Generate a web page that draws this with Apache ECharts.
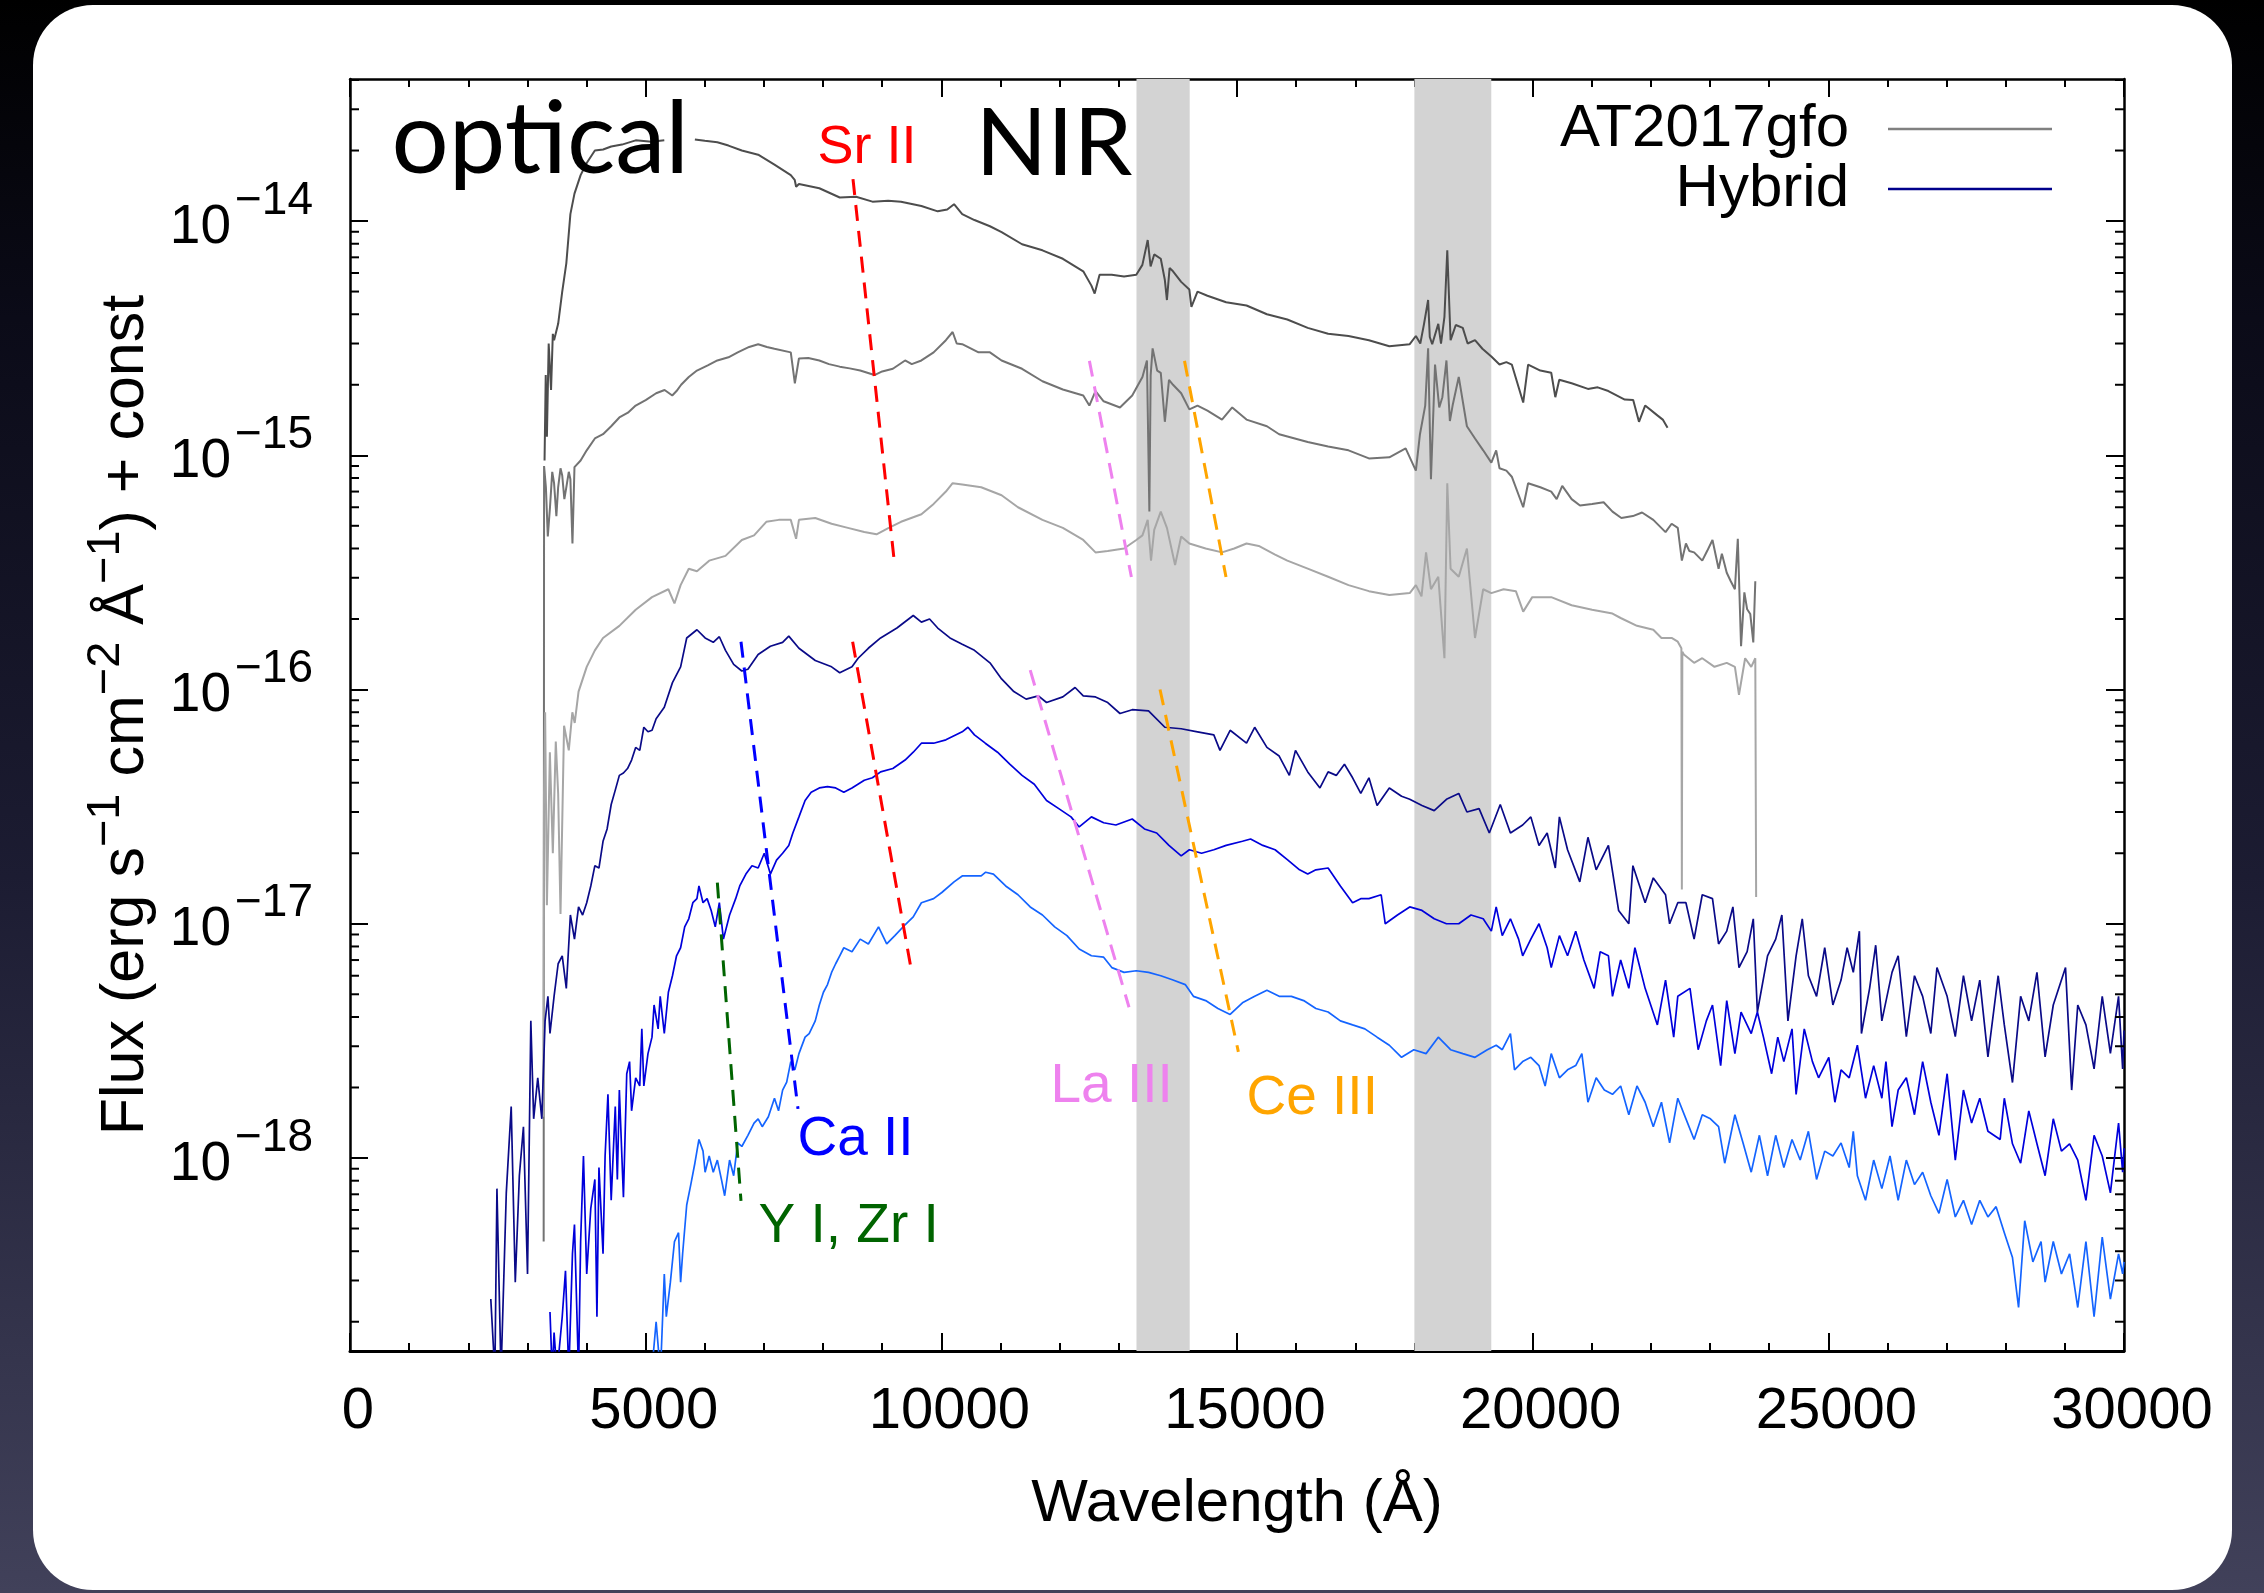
<!DOCTYPE html>
<html><head><meta charset="utf-8">
<script src="https://cdn.jsdelivr.net/npm/echarts@6/dist/echarts.min.js"></script>
<style>
html,body{margin:0;padding:0;width:2264px;height:1593px;overflow:hidden;
background:linear-gradient(180deg,#000 0%,#0b0b18 20%,#1c1c32 55%,#41415a 100%);}
#panel{position:absolute;left:33px;top:5px;width:2199px;height:1585px;background:#fff;border-radius:60px;}
#chart{position:absolute;left:0;top:0;width:2264px;height:1593px;}
</style></head>
<body><div id="panel"></div><div id="chart"></div>
<script>
// ---------------- axes ----------------
const X_MIN = 0, X_MAX = 30000, X_STEP = 5000;
const Y_MIN = 1.5e-19, Y_MAX = 4.04e-14;
const yMajorTicks = [1e-18, 1e-17, 1e-16, 1e-15, 1e-14];
const yTickBase = '10';
const yTickExponents = ['−18', '−17', '−16', '−15', '−14'];
const yMinorMultipliers = [2, 3, 4, 5, 6, 7, 8, 9];
const yDecades = [-19, -18, -17, -16, -15, -14];
const telluricBands = [[13300, 14200], [18000, 19300]];
const xTitle = 'Wavelength (Å)';
// y title pieces: [text, isSuperscript]
const yTitleParts = [['Flux (erg s', false], ['−1', true], [' cm', false], ['−2', true], [' Å', false], ['−1', true], [') + const', false]];
const legendNames = ['AT2017gfo', 'Hybrid'];

// ---------------- AT2017gfo spectra (wavelength Å, flux) ----------------
const gfo1 = [[3290,9.5e-16],[3310,2.2e-15],[3330,1.2e-15],[3360,3.0e-15],[3400,1.9e-15],[3430,3.3e-15],[3451,3.1e-15],[3520,3.64e-15],[3589,5.0e-15],[3658,6.6e-15],[3727,1.07e-14],[3796,1.31e-14],[3900,1.57e-14],[4003,1.77e-14],[4141,2.0e-14],[4280,2.02e-14],[4417,2.08e-14],[4600,2.12e-14],[4831,2.21e-14],[5100,2.18e-14],[5315,2.21e-14],[5570,'-'],[5832,2.23e-14],[6000,2.2e-14],[6212,2.17e-14],[6400,2.1e-14],[6626,2.0e-14],[6902,1.92e-14],[7178,1.74e-14],[7454,1.57e-14],[7520,1.5e-14],[7544,1.4e-14],[7592,1.44e-14],[7937,1.38e-14],[8282,1.26e-14],[8558,1.27e-14],[8835,1.21e-14],[9100,1.22e-14],[9318,1.21e-14],[9663,1.16e-14],[9939,1.1e-14],[10100,1.12e-14],[10215,1.18e-14],[10353,1.07e-14],[10560,1.01e-14],[10822,9.5e-15],[11019,8.97e-15],[11365,7.96e-15],[11710,7.5e-15],[12055,6.9e-15],[12400,6.1e-15],[12538,5.3e-15],[12593,4.9e-15],[12676,5.9e-15],[12882,5.9e-15],[13090,5.8e-15],[13297,5.9e-15],[13400,6.5e-15],[13490,8.3e-15],[13539,6.4e-15],[13600,7.2e-15],[13711,6.9e-15],[13780,5.6e-15],[13815,4.6e-15],[13860,6.3e-15],[13918,6.1e-15],[14056,5.5e-15],[14194,5.1e-15],[14229,4.3e-15],[14332,5.0e-15],[14500,4.8e-15],[14816,4.5e-15],[15161,4.36e-15],[15506,4.0e-15],[15851,3.8e-15],[16196,3.5e-15],[16541,3.3e-15],[16886,3.23e-15],[17231,3.1e-15],[17576,2.92e-15],[17921,2.98e-15],[18025,3.23e-15],[18100,3.0e-15],[18163,3.64e-15],[18232,4.6e-15],[18260,3.2e-15],[18301,2.98e-15],[18404,3.64e-15],[18450,3.0e-15],[18508,3.9e-15],[18556,7.5e-15],[18612,3.1e-15],[18700,3.6e-15],[18818,3.5e-15],[18900,3.0e-15],[19025,3.1e-15],[19150,2.85e-15],[19301,2.64e-15],[19439,2.44e-15],[19555,2.5e-15],[19647,2.44e-15],[19840,1.68e-15],[19923,2.44e-15],[20130,2.3e-15],[20314,2.25e-15],[20383,1.77e-15],[20450,2.1e-15],[20659,2.03e-15],[20935,1.92e-15],[21100,1.95e-15],[21280,1.88e-15],[21557,1.73e-15],[21700,1.72e-15],[21798,1.39e-15],[21902,1.63e-15],[22109,1.48e-15],[22200,1.42e-15],[22281,1.31e-15]];

const gfo2 = [[3275,4.4e-19],[3282,9.0e-16],[3313,7.3e-16],[3345,4.5e-16],[3382,6.0e-16],[3420,8.5e-16],[3451,7.6e-16],[3490,5.5e-16],[3520,7.3e-16],[3560,8.8e-16],[3589,8.2e-16],[3625,6.5e-16],[3658,7.3e-16],[3700,8.5e-16],[3727,7.9e-16],[3762,4.2e-16],[3796,8.9e-16],[3900,9.5e-16],[4003,1.05e-15],[4141,1.18e-15],[4279,1.23e-15],[4417,1.33e-15],[4555,1.45e-15],[4700,1.52e-15],[4831,1.63e-15],[5000,1.72e-15],[5177,1.84e-15],[5320,1.9e-15],[5450,1.8e-15],[5522,1.88e-15],[5600,2.0e-15],[5729,2.16e-15],[5867,2.3e-15],[6050,2.42e-15],[6212,2.54e-15],[6400,2.62e-15],[6557,2.75e-15],[6750,2.9e-15],[6902,2.98e-15],[7050,2.9e-15],[7178,2.85e-15],[7454,2.75e-15],[7523,2.03e-15],[7592,2.59e-15],[7750,2.6e-15],[7937,2.54e-15],[8100,2.45e-15],[8282,2.39e-15],[8450,2.35e-15],[8628,2.3e-15],[8869,2.2e-15],[9000,2.28e-15],[9180,2.34e-15],[9387,2.54e-15],[9500,2.45e-15],[9663,2.54e-15],[9870,2.75e-15],[10077,3.1e-15],[10191,3.36e-15],[10260,3.0e-15],[10353,2.98e-15],[10629,2.75e-15],[10822,2.75e-15],[11019,2.54e-15],[11365,2.34e-15],[11710,2.07e-15],[12055,1.91e-15],[12400,1.8e-15],[12503,1.63e-15],[12607,1.88e-15],[12745,1.7e-15],[13021,1.6e-15],[13228,1.8e-15],[13401,2.16e-15],[13477,2.54e-15],[13518,5.75e-16],[13540,2.2e-15],[13573,2.86e-15],[13650,2.3e-15],[13711,2.25e-15],[13780,1.39e-15],[13850,2.1e-15],[13918,2.0e-15],[14056,1.84e-15],[14194,1.57e-15],[14332,1.63e-15],[14500,1.55e-15],[14746,1.42e-15],[14919,1.6e-15],[15161,1.42e-15],[15506,1.33e-15],[15713,1.23e-15],[16196,1.14e-15],[16541,1.09e-15],[16886,1.05e-15],[17231,9.7e-16],[17576,9.8e-16],[17852,1.07e-15],[18025,8.6e-16],[18094,1.23e-15],[18183,1.63e-15],[18232,2.86e-15],[18280,7.9e-16],[18349,2.44e-15],[18420,1.6e-15],[18473,1.77e-15],[18542,2.54e-15],[18600,1.4e-15],[18646,1.63e-15],[18750,2.16e-15],[18888,1.33e-15],[19025,1.18e-15],[19163,1.05e-15],[19301,9.3e-16],[19383,1.05e-15],[19439,8.8e-16],[19555,8.6e-16],[19647,8.1e-16],[19840,6.0e-16],[19923,7.6e-16],[20130,7.3e-16],[20314,7.0e-16],[20406,6.5e-16],[20500,7.4e-16],[20659,6.5e-16],[20800,6.1e-16],[21005,6.2e-16],[21200,6.3e-16],[21350,5.75e-16],[21500,5.4e-16],[21695,5.5e-16],[21850,5.7e-16],[22040,5.3e-16],[22247,4.7e-16],[22350,5.1e-16],[22454,4.9e-16],[22523,3.55e-16],[22592,4.2e-16],[22650,3.9e-16],[22730,3.85e-16],[22868,3.55e-16],[22950,3.9e-16],[23041,4.35e-16],[23144,3.28e-16],[23200,3.8e-16],[23282,3.15e-16],[23350,2.9e-16],[23420,2.68e-16],[23469,4.4e-16],[23524,1.53e-16],[23580,2.6e-16],[23627,2.2e-16],[23680,2.1e-16],[23731,1.59e-16],[23765,2.9e-16]];

const gfo3 = [[3270,1.5e-18],[3280,3.5e-17],[3300,8.0e-17],[3330,1.2e-17],[3380,5.4e-17],[3430,2.0e-17],[3480,6.0e-17],[3520,3.6e-17],[3560,1.1e-17],[3620,7.0e-17],[3700,5.5e-17],[3760,8.0e-17],[3800,7.2e-17],[3865,9.8e-17],[4003,1.25e-16],[4141,1.47e-16],[4279,1.66e-16],[4555,1.87e-16],[4831,2.19e-16],[5107,2.48e-16],[5384,2.68e-16],[5487,2.33e-16],[5591,2.79e-16],[5729,3.28e-16],[5867,3.2e-16],[6074,3.55e-16],[6350,3.72e-16],[6626,4.35e-16],[6833,4.55e-16],[7040,5.2e-16],[7250,5.3e-16],[7454,5.3e-16],[7544,4.4e-16],[7592,5.3e-16],[7868,5.4e-16],[8144,5.1e-16],[8420,4.9e-16],[8697,4.7e-16],[8904,4.6e-16],[9111,4.9e-16],[9318,5.2e-16],[9663,5.6e-16],[9870,6.2e-16],[10077,7.0e-16],[10191,7.6e-16],[10353,7.5e-16],[10674,7.3e-16],[11019,6.75e-16],[11296,6.0e-16],[11710,5.3e-16],[12055,4.9e-16],[12400,4.35e-16],[12607,3.85e-16],[12814,3.9e-16],[13090,4.0e-16],[13297,4.35e-16],[13401,4.55e-16],[13490,5.3e-16],[13546,3.55e-16],[13600,4.8e-16],[13711,5.75e-16],[13815,4.9e-16],[13953,3.4e-16],[14056,4.5e-16],[14194,4.2e-16],[14470,4.0e-16],[14746,3.85e-16],[14953,4.0e-16],[15161,4.2e-16],[15368,4.1e-16],[15644,3.77e-16],[15851,3.55e-16],[16196,3.28e-16],[16541,3.03e-16],[16886,2.79e-16],[17231,2.63e-16],[17576,2.53e-16],[17921,2.58e-16],[18025,2.79e-16],[18120,2.5e-16],[18197,3.85e-16],[18280,2.68e-16],[18404,3.03e-16],[18508,1.36e-16],[18556,7.6e-16],[18612,3.28e-16],[18750,3.03e-16],[18888,4.0e-16],[19025,1.66e-16],[19163,2.68e-16],[19301,2.58e-16],[19508,2.68e-16],[19716,2.63e-16],[19840,2.15e-16],[19993,2.48e-16],[20314,2.48e-16],[20659,2.29e-16],[21005,2.19e-16],[21350,2.11e-16],[21488,2.02e-16],[21764,1.87e-16],[22040,1.8e-16],[22178,1.66e-16],[22350,1.66e-16],[22454,1.6e-16],[22515,1.5e-16],[22523,1.4e-17],[22531,1.45e-16],[22557,1.41e-16],[22730,1.3e-16],[22868,1.36e-16],[23075,1.25e-16],[23282,1.3e-16],[23420,1.25e-16],[23489,9.5e-17],[23593,1.36e-16],[23696,1.25e-16],[23765,1.36e-16],[23779,1.3e-17]];

// ---------------- Hybrid model spectra ----------------
const hyb1 = [[2381,2.5e-19],[2450,1.2e-19],[2485,7.4e-19],[2554,1.2e-19],[2643,7.1e-19],[2726,1.66e-18],[2795,2.95e-19],[2864,8.4e-19],[2933,1.36e-18],[3002,3.2e-19],[3058,3.85e-18],[3106,1.47e-18],[3175,2.2e-18],[3244,1.47e-18],[3299,3.85e-18],[3347,4.9e-18],[3382,3.4e-18],[3451,4.9e-18],[3520,6.75e-18],[3589,7.3e-18],[3658,5.3e-18],[3727,1.09e-17],[3796,8.6e-18],[3865,1.18e-17],[3934,1.09e-17],[4003,1.23e-17],[4072,1.45e-17],[4141,1.77e-17],[4210,1.73e-17],[4279,2.25e-17],[4348,2.54e-17],[4417,3.23e-17],[4486,3.72e-17],[4555,4.3e-17],[4624,4.4e-17],[4693,4.6e-17],[4762,5.0e-17],[4831,5.66e-17],[4900,5.5e-17],[4969,6.9e-17],[5039,6.6e-17],[5108,6.7e-17],[5177,7.5e-17],[5315,8.4e-17],[5453,1.07e-16],[5591,1.25e-16],[5694,1.66e-16],[5867,1.8e-16],[6005,1.66e-16],[6143,1.59e-16],[6246,1.68e-16],[6350,1.47e-16],[6488,1.28e-16],[6626,1.2e-16],[6729,1.22e-16],[6902,1.41e-16],[7109,1.53e-16],[7316,1.59e-16],[7420,1.69e-16],[7592,1.5e-16],[7868,1.33e-16],[8144,1.25e-16],[8282,1.18e-16],[8489,1.25e-16],[8593,1.36e-16],[8765,1.5e-16],[8973,1.66e-16],[9249,1.83e-16],[9525,2.07e-16],[9663,1.94e-16],[9801,2.0e-16],[9939,1.83e-16],[10146,1.66e-16],[10353,1.56e-16],[10560,1.47e-16],[10822,1.3e-16],[11019,1.11e-16],[11226,9.8e-17],[11434,9.1e-17],[11641,9.4e-17],[11779,8.8e-17],[12055,9.3e-17],[12262,1.02e-16],[12400,9.4e-17],[12607,9.3e-17],[12814,8.8e-17],[13021,7.9e-17],[13228,8.2e-17],[13504,8.1e-17],[13780,6.9e-17],[14056,6.8e-17],[14332,6.6e-17],[14608,6.4e-17],[14712,5.5e-17],[14884,6.7e-17],[15161,5.9e-17],[15299,6.9e-17],[15506,5.66e-17],[15713,5.2e-17],[15885,4.3e-17],[15989,5.5e-17],[16196,4.45e-17],[16403,3.8e-17],[16541,4.45e-17],[16679,4.3e-17],[16817,4.8e-17],[16955,4.2e-17],[17093,3.6e-17],[17231,4.2e-17],[17369,3.2e-17],[17576,3.8e-17],[17783,3.5e-17],[17921,3.4e-17],[18128,3.2e-17],[18335,3.04e-17],[18542,3.4e-17],[18750,3.6e-17],[18888,3.0e-17],[19094,3.1e-17],[19267,2.44e-17],[19452,3.23e-17],[19624,2.44e-17],[19831,2.64e-17],[19969,2.86e-17],[20107,2.16e-17],[20245,2.44e-17],[20383,1.73e-17],[20452,2.86e-17],[20590,2.07e-17],[20797,1.51e-17],[20935,2.34e-17],[21074,1.7e-17],[21281,2.16e-17],[21453,1.14e-17],[21626,1.0e-17],[21695,1.77e-17],[21902,1.23e-17],[22040,1.57e-17],[22247,1.33e-17],[22316,1.0e-17],[22454,1.23e-17],[22592,1.23e-17],[22730,8.6e-18],[22868,1.33e-17],[23041,1.28e-17],[23144,8.2e-18],[23282,9.3e-18],[23386,1.18e-17],[23489,6.5e-18],[23627,7.6e-18],[23731,1.05e-17],[23800,4.2e-18],[23972,7.3e-18],[24110,8.6e-18],[24214,1.09e-17],[24317,3.85e-18],[24455,7.3e-18],[24559,1.05e-17],[24663,6.0e-18],[24801,4.9e-18],[24939,7.9e-18],[25077,4.5e-18],[25215,5.75e-18],[25318,7.9e-18],[25422,6.2e-18],[25525,9.3e-18],[25560,3.4e-18],[25698,5.3e-18],[25801,8.1e-18],[25905,3.85e-18],[26077,6.2e-18],[26181,7.3e-18],[26319,3.3e-18],[26457,6.0e-18],[26595,4.9e-18],[26733,3.4e-18],[26837,6.5e-18],[27009,4.9e-18],[27147,3.3e-18],[27285,6.0e-18],[27423,3.85e-18],[27561,5.75e-18],[27699,2.7e-18],[27872,6.0e-18],[27976,3.7e-18],[28114,2.1e-18],[28252,4.9e-18],[28390,3.85e-18],[28528,6.2e-18],[28666,2.7e-18],[28804,4.5e-18],[29011,6.5e-18],[29115,1.95e-18],[29218,4.5e-18],[29356,3.7e-18],[29494,2.4e-18],[29632,4.9e-18],[29770,2.8e-18],[29908,4.9e-18],[29977,2.4e-18],[30000,3.5e-18]];

const hyb2 = [[3382,2.2e-19],[3420,1.2e-19],[3451,1.8e-19],[3500,1.2e-19],[3589,2.1e-19],[3644,3.3e-19],[3700,1.2e-19],[3762,3.9e-19],[3796,5.2e-19],[3865,1.2e-19],[3900,4.4e-19],[3948,1.02e-18],[4003,3.2e-19],[4072,6.1e-19],[4141,8.1e-19],[4176,2.1e-19],[4210,9.1e-19],[4279,3.9e-19],[4314,1.02e-18],[4362,1.87e-18],[4417,6.6e-19],[4486,1.66e-18],[4521,8.1e-19],[4555,1.95e-18],[4624,6.8e-19],[4680,2.29e-18],[4728,2.58e-18],[4762,1.59e-18],[4831,2.2e-18],[4900,2.03e-18],[4935,3.56e-18],[4969,2.03e-18],[5039,2.79e-18],[5107,3.28e-18],[5142,4.5e-18],[5211,3.56e-18],[5246,4.9e-18],[5315,3.4e-18],[5384,5.1e-18],[5453,6.0e-18],[5522,7.3e-18],[5591,7.9e-18],[5660,9.7e-18],[5729,1.05e-17],[5798,1.23e-17],[5867,1.28e-17],[5901,1.45e-17],[5970,1.23e-17],[6039,1.28e-17],[6108,1.14e-17],[6177,9.7e-18],[6246,1.23e-17],[6315,8.6e-18],[6419,1.09e-17],[6522,1.28e-17],[6591,1.45e-17],[6695,1.63e-17],[6798,1.77e-17],[6902,1.73e-17],[7006,2.0e-17],[7109,1.63e-17],[7213,1.87e-17],[7316,2.0e-17],[7420,2.16e-17],[7489,2.44e-17],[7592,2.86e-17],[7696,3.36e-17],[7799,3.64e-17],[7937,3.8e-17],[8075,3.85e-17],[8213,3.8e-17],[8351,3.64e-17],[8489,3.8e-17],[8697,4.1e-17],[8835,4.2e-17],[8973,4.45e-17],[9180,4.6e-17],[9387,5.0e-17],[9525,5.4e-17],[9663,5.9e-17],[9870,5.9e-17],[10077,6.1e-17],[10353,6.6e-17],[10450,6.9e-17],[10560,6.4e-17],[10743,5.9e-17],[10950,5.4e-17],[11157,4.8e-17],[11365,4.3e-17],[11572,3.94e-17],[11779,3.36e-17],[11986,3.1e-17],[12193,2.86e-17],[12331,2.59e-17],[12538,2.86e-17],[12745,2.7e-17],[12952,2.64e-17],[13228,2.8e-17],[13435,2.54e-17],[13642,2.44e-17],[13849,2.16e-17],[14056,1.95e-17],[14194,2.07e-17],[14401,2.0e-17],[14608,2.07e-17],[14816,2.16e-17],[15092,2.25e-17],[15230,2.3e-17],[15437,2.16e-17],[15644,2.07e-17],[15851,1.88e-17],[16058,1.7e-17],[16196,1.63e-17],[16334,1.7e-17],[16541,1.73e-17],[16748,1.45e-17],[16955,1.23e-17],[17093,1.28e-17],[17231,1.28e-17],[17438,1.33e-17],[17507,1.0e-17],[17714,1.09e-17],[17921,1.18e-17],[18128,1.14e-17],[18335,1.05e-17],[18542,1.0e-17],[18750,1.0e-17],[18957,1.09e-17],[19163,1.05e-17],[19301,9.3e-18],[19383,1.18e-17],[19486,8.9e-18],[19624,1.05e-17],[19762,8.6e-18],[19831,7.3e-18],[19969,8.6e-18],[20107,1.0e-17],[20245,7.9e-18],[20314,6.5e-18],[20452,8.9e-18],[20590,7.3e-18],[20728,9.3e-18],[20866,7.0e-18],[21039,5.3e-18],[21142,7.6e-18],[21281,7.3e-18],[21350,4.9e-18],[21488,7.0e-18],[21626,5.3e-18],[21729,7.9e-18],[21902,5.3e-18],[22109,3.7e-18],[22247,5.75e-18],[22385,3.28e-18],[22454,4.9e-18],[22661,5.3e-18],[22799,2.9e-18],[22937,3.85e-18],[23041,4.5e-18],[23179,2.48e-18],[23282,4.7e-18],[23420,2.79e-18],[23524,4.2e-18],[23696,3.4e-18],[23800,4.2e-18],[23903,3.28e-18],[24041,2.29e-18],[24145,3.28e-18],[24248,2.58e-18],[24386,3.56e-18],[24455,1.87e-18],[24593,3.56e-18],[24731,2.58e-18],[24835,2.2e-18],[25008,2.69e-18],[25111,1.73e-18],[25215,2.38e-18],[25353,2.2e-18],[25491,3.03e-18],[25629,1.8e-18],[25767,2.48e-18],[25905,1.8e-18],[25974,2.58e-18],[26077,1.36e-18],[26181,1.95e-18],[26319,2.2e-18],[26457,1.53e-18],[26595,2.58e-18],[26733,1.73e-18],[26871,1.25e-18],[27009,2.29e-18],[27147,9.8e-19],[27285,1.95e-18],[27423,1.41e-18],[27561,1.8e-18],[27699,1.3e-18],[27906,1.2e-18],[27976,1.8e-18],[28114,1.15e-18],[28252,9.5e-19],[28390,1.59e-18],[28528,1.15e-18],[28666,8.4e-19],[28804,1.47e-18],[28942,1.07e-18],[29080,1.15e-18],[29218,9.8e-19],[29356,6.6e-19],[29494,1.25e-18],[29632,1.02e-18],[29770,7.1e-19],[29908,1.41e-18],[29977,8.7e-19],[30000,1.1e-18]];

const hyb3 = [[5100,1.2e-19],[5177,2.0e-19],[5250,1.2e-19],[5315,3.2e-19],[5349,2.1e-19],[5418,2.95e-19],[5487,4.4e-19],[5556,4.8e-19],[5591,2.95e-19],[5625,3.9e-19],[5694,6.3e-19],[5763,7.7e-19],[5832,9.5e-19],[5901,1.2e-18],[5970,1.07e-18],[6005,8.7e-19],[6074,1.02e-18],[6143,8.7e-19],[6212,9.8e-19],[6281,8.1e-19],[6336,6.9e-19],[6419,9.8e-19],[6488,8.4e-19],[6557,1.16e-18],[6626,1.12e-18],[6729,1.25e-18],[6833,1.41e-18],[6902,1.47e-18],[6971,1.36e-18],[7075,1.5e-18],[7178,1.8e-18],[7247,1.59e-18],[7316,1.95e-18],[7385,2.11e-18],[7454,2.58e-18],[7523,2.38e-18],[7592,2.79e-18],[7696,3.28e-18],[7765,3.4e-18],[7868,3.85e-18],[7937,4.5e-18],[8006,5.1e-18],[8075,5.5e-18],[8144,6.2e-18],[8213,6.75e-18],[8282,7.3e-18],[8351,7.9e-18],[8489,7.6e-18],[8628,8.6e-18],[8766,8.2e-18],[8938,9.7e-18],[9076,8.2e-18],[9214,8.9e-18],[9387,9.9e-18],[9525,1.07e-17],[9663,1.23e-17],[9870,1.28e-17],[10008,1.36e-17],[10215,1.51e-17],[10353,1.6e-17],[10560,1.6e-17],[10674,1.6e-17],[10750,1.66e-17],[10881,1.63e-17],[11088,1.45e-17],[11296,1.33e-17],[11503,1.18e-17],[11710,1.09e-17],[11917,9.7e-18],[12124,8.9e-18],[12331,7.8e-18],[12538,7.3e-18],[12745,7.2e-18],[12883,6.5e-18],[13090,6.2e-18],[13297,6.3e-18],[13504,6.2e-18],[13711,6.0e-18],[13918,5.75e-18],[14125,5.5e-18],[14263,4.9e-18],[14470,4.7e-18],[14677,4.35e-18],[14884,4.1e-18],[15092,4.6e-18],[15299,4.9e-18],[15506,5.2e-18],[15713,4.9e-18],[15920,4.9e-18],[16127,4.7e-18],[16334,4.35e-18],[16541,4.2e-18],[16748,3.85e-18],[16955,3.7e-18],[17162,3.56e-18],[17369,3.28e-18],[17576,3.03e-18],[17783,2.69e-18],[17990,2.9e-18],[18197,2.79e-18],[18404,3.28e-18],[18612,2.9e-18],[18819,2.79e-18],[19025,2.69e-18],[19233,2.9e-18],[19383,3.03e-18],[19486,2.9e-18],[19624,3.4e-18],[19693,2.38e-18],[19831,2.58e-18],[19969,2.69e-18],[20107,2.48e-18],[20211,2.03e-18],[20314,2.79e-18],[20452,2.2e-18],[20590,2.38e-18],[20728,2.48e-18],[20832,2.79e-18],[20935,1.73e-18],[21074,2.2e-18],[21212,1.95e-18],[21350,1.87e-18],[21488,2.03e-18],[21626,1.53e-18],[21764,2.03e-18],[21902,1.73e-18],[22040,1.36e-18],[22178,1.73e-18],[22316,1.16e-18],[22454,1.8e-18],[22592,1.47e-18],[22730,1.2e-18],[22868,1.53e-18],[23006,1.47e-18],[23144,1.36e-18],[23248,9.5e-19],[23420,1.53e-18],[23558,1.16e-18],[23696,8.7e-19],[23834,1.25e-18],[23972,8.4e-19],[24110,1.25e-18],[24248,9.1e-19],[24386,1.2e-18],[24524,9.8e-19],[24663,1.3e-18],[24801,8.1e-19],[24939,1.07e-18],[25077,1.02e-18],[25215,1.16e-18],[25353,9.1e-19],[25422,1.3e-18],[25491,8.4e-19],[25629,6.6e-19],[25767,9.8e-19],[25905,7.4e-19],[26043,1.02e-18],[26181,6.6e-19],[26319,9.8e-19],[26457,7.7e-19],[26595,8.7e-19],[26733,6.9e-19],[26871,5.8e-19],[27009,8.1e-19],[27147,5.6e-19],[27285,6.6e-19],[27423,5.2e-19],[27561,6.6e-19],[27699,5.6e-19],[27837,6.2e-19],[27976,4.8e-19],[28114,3.76e-19],[28217,2.3e-19],[28321,5.4e-19],[28459,3.6e-19],[28597,4.4e-19],[28666,2.95e-19],[28804,4.4e-19],[28942,3.2e-19],[29080,3.9e-19],[29218,2.3e-19],[29356,4.4e-19],[29494,2.1e-19],[29632,4.6e-19],[29770,2.5e-19],[29908,3.9e-19],[29977,3.2e-19],[30000,3.6e-19]];

// ---------------- line identification segments [[λ1,F1],[λ2,F2]] ----------------
const srII = [[[8506,1.51e-14],[9200,3.6e-16]], [[8500,1.6e-16],[9504,6.1e-18]]];
const caII = [[[6612,1.6e-16],[7576,1.62e-18]]];
const yZr  = [[[6212,1.5e-17],[6612,6.56e-19]]];
const laIII = [[[12504,2.53e-15],[13214,3.02e-16]], [[11503,1.21e-16],[13174,4.4e-18]]];
const ceIII = [[[14112,2.53e-15],[14814,3.02e-16]], [[13698,1.0e-16],[15023,2.84e-18]]];

// annotation texts anchored in data space (left edge, vertical middle)
const annotations = [
  {name:'optical', value:[693, 2.21e-14], key:'optical'},
  {name:'NIR', value:[10569, 2.12e-14], key:'nir'},
  {name:'Sr II', value:[7897, 2.05e-14], key:'sr'},
  {name:'Ca II', value:[7559, 1.2e-18], key:'ca'},
  {name:'Y I, Zr I', value:[6900, 5.07e-19], key:'yz'},
  {name:'La III', value:[11838, 2.01e-18], key:'la'},
  {name:'Ce III', value:[15152, 1.79e-18], key:'ce'}
];

// ---------------- styles ----------------
const FONT = '"Liberation Sans", Arial, Helvetica, sans-serif';
const BIGFONT = 'Lato, "Open Sans", sans-serif';
const gfoColors = ['#4d4d4d', '#737373', '#a6a6a6'];
const hybColors = ['#0a0a88', '#0000dc', '#1464ff'];
const legendColors = ['#808080', '#00008b'];
const lineColors = {sr:'#ff0000', ca:'#0000ff', yz:'#006400', la:'#ee82ee', ce:'#ffa500'};
const annStyle = {
  optical:{fontFamily:BIGFONT, fontSize:101, color:'#000'},
  nir:{fontFamily:BIGFONT, fontSize:94, color:'#000'},
  sr:{fontFamily:FONT, fontSize:54, color:lineColors.sr},
  ca:{fontFamily:FONT, fontSize:55, color:lineColors.ca},
  yz:{fontFamily:FONT, fontSize:55, color:lineColors.yz},
  la:{fontFamily:FONT, fontSize:55, color:lineColors.la},
  ce:{fontFamily:FONT, fontSize:55, color:lineColors.ce}
};

const yMinorTicks = [];
yDecades.forEach(d => yMinorMultipliers.forEach(m => {
  const v = m * Math.pow(10, d);
  if (v > Y_MIN && v < Y_MAX) yMinorTicks.push([X_MIN, v]);
}));

function majorIndex(v) {
  for (let i = 0; i < yMajorTicks.length; i++) {
    if (Math.abs(Math.log10(v) - Math.log10(yMajorTicks[i])) < 0.01) return i;
  }
  return -1;
}

const chart = echarts.init(document.getElementById('chart'), null, {renderer:'canvas'});

function xAxisDef(pos, showLabel) {
  return {
    type:'value', min:X_MIN, max:X_MAX, interval:X_STEP, position:pos,
    axisLine:{show:true, onZero:false, lineStyle:{color:'#000', width: pos === 'bottom' ? 3 : 2.5}},
    axisTick:{show:true, inside:true, length:18, lineStyle:{color:'#000', width:2}},
    minorTick:{show:true, splitNumber:5, length:8, lineStyle:{color:'#000', width:2}},
    splitLine:{show:false}, minorSplitLine:{show:false},
    axisLabel:{show:showLabel, margin:32, fontFamily:FONT, fontSize:58, color:'#000', padding:[0,0,0,16],
      formatter: v => String(v)},
    name: showLabel ? xTitle : '', nameLocation:'middle', nameGap:123,
    nameTextStyle:{fontFamily:FONT, fontSize:60, color:'#000'}
  };
}
function yAxisDef(pos, role) {
  // role: 'main' (line, ticks, base "10" labels), 'mirror' (right frame), 'exp' (raised exponent labels only)
  const main = role === 'main', exp = role === 'exp';
  return {
    type:'log', logBase:10, min:Y_MIN, max:Y_MAX, position:pos, offset:0,
    axisLine:{show:!exp, onZero:false, lineStyle:{color:'#000', width:2.5}},
    axisTick:{show:!exp, inside:true, length:18, customValues:yMajorTicks, lineStyle:{color:'#000', width:2}},
    minorTick:{show:false}, splitLine:{show:false}, minorSplitLine:{show:false},
    axisLabel:{show: main || exp, customValues:yMajorTicks,
      margin: exp ? 37 : 119,
      fontFamily:FONT, fontSize: exp ? 46 : 55, color:'#000',
      verticalAlign: exp ? 'bottom' : 'top', lineHeight: exp ? 40 : 13,
      formatter: v => { const i = majorIndex(v); return i < 0 ? '' : (exp ? yTickExponents[i] : yTickBase); }}
  };
}

const series = [];
// telluric bands
series.push({
  type:'custom', name:'bands', silent:true, z:1, clip:true,
  data: telluricBands,
  encode:{x:[0,1]},
  renderItem(params, api) {
    const p0 = api.coord([api.value(0), Y_MAX]);
    const p1 = api.coord([api.value(1), Y_MIN]);
    return {type:'rect', shape:{x:p0[0], y:p0[1], width:p1[0]-p0[0], height:p1[1]-p0[1]}, style:{fill:'#d3d3d3'}};
  }
});
[gfo1, gfo2, gfo3].forEach((d, i) => series.push({
  type:'line', name:legendNames[0], data:d, symbol:'none', z:3, clip:true, connectNulls:false,
  lineStyle:{color:gfoColors[i], width:2}, itemStyle:{color:gfoColors[i]}
}));
[hyb1, hyb2, hyb3].forEach((d, i) => series.push({
  type:'line', name:legendNames[1], data:d, symbol:'none', z:3, clip:true,
  lineStyle:{color:hybColors[i], width:1.7}, itemStyle:{color:hybColors[i]}
}));
[[srII,'sr'],[caII,'ca'],[yZr,'yz'],[laIII,'la'],[ceIII,'ce']].forEach(([segs, k]) => segs.forEach(seg => series.push({
  type:'line', name:'ident-' + k, data:seg, symbol:'none', z:4, silent:true,
  lineStyle:{color:lineColors[k], width:3, type:[16,10]}
})));
// minor log ticks on both y sides
series.push({
  type:'custom', name:'yMinor', silent:true, z:5, clip:false, data:yMinorTicks,
  renderItem(params, api) {
    const v = api.value(1);
    const pL = api.coord([X_MIN, v]);
    const pR = api.coord([X_MAX, v]);
    return {type:'group', children:[
      {type:'line', shape:{x1:pL[0], y1:pL[1], x2:pL[0]+9, y2:pL[1]}, style:{stroke:'#000', lineWidth:2}},
      {type:'line', shape:{x1:pR[0]-9, y1:pR[1], x2:pR[0], y2:pR[1]}, style:{stroke:'#000', lineWidth:2}}
    ]};
  }
});
// annotation texts (opacity 1 so label colours stay pure)
series.push({
  type:'scatter', name:'labels', silent:true, z:6, symbolSize:1,
  itemStyle:{color:'rgba(0,0,0,0)', opacity:1},
  data: annotations.map(a => ({name:a.name, value:a.value, label:Object.assign({show:true}, annStyle[a.key])})),
  label:{show:true, position:'right', distance:0, formatter:'{b}'}
});

// rotated y-axis title with superscripts
const Y_TITLE_FS = 61, Y_TITLE_SUP_FS = 47, Y_TITLE_RAISE = 25;
const measureCtx = document.createElement('canvas').getContext('2d');
function textWidth(t, fs) { measureCtx.font = fs + 'px "Liberation Sans"'; return measureCtx.measureText(t).width; }
let cursor = 0;
const titleChildren = yTitleParts.map(([t, sup]) => {
  const fs = sup ? Y_TITLE_SUP_FS : Y_TITLE_FS;
  const baseY = sup ? -Y_TITLE_RAISE : 0;
  const el = {type:'text', x:cursor, y:baseY - 0.3465 * fs,
    style:{text:t, fontFamily:'"Liberation Sans"', fontSize:fs, fill:'#000', verticalAlign:'middle', align:'left'}};
  cursor += textWidth(t, fs);
  return el;
});
const titleLen = cursor;
const gridCenterY = 79 + 1272 / 2;

chart.setOption({
  animation:false,
  backgroundColor:'transparent',
  grid:{left:350, top:79, width:1774, height:1272, containLabel:false},
  xAxis:[xAxisDef('bottom', true), xAxisDef('top', false)],
  yAxis:[yAxisDef('left', 'main'), yAxisDef('right', 'mirror'), yAxisDef('left', 'exp')],
  legend:{
    data:[
      {name:legendNames[0], itemStyle:{color:legendColors[0]}},
      {name:legendNames[1], itemStyle:{color:legendColors[1]}}
    ],
    orient:'vertical', right:207, top:94, align:'right', icon:'rect',
    itemWidth:164, itemHeight:2.5, itemGap:0, selectedMode:false,
    textStyle:{fontFamily:FONT, fontSize:60, color:'#000', lineHeight:60, padding:[0,34,0,0]}
  },
  graphic:[{type:'group', x:147, y:gridCenterY + titleLen / 2, rotation:Math.PI / 2, children:titleChildren}],
  series: series
});
</script></body></html>
